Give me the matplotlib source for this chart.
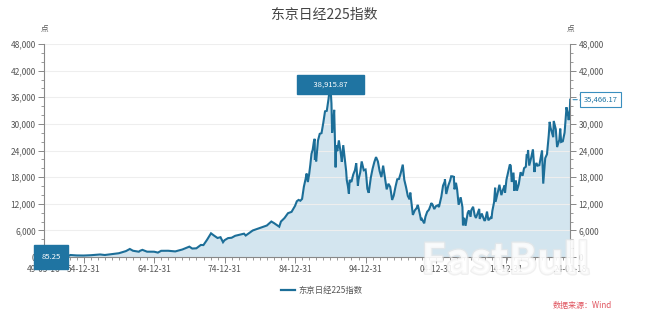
import matplotlib
matplotlib.use("Agg")
import matplotlib.pyplot as plt
import matplotlib.dates as mdates
import matplotlib.ticker as mticker
import matplotlib.patheffects as pe
import numpy as np
import pandas as pd

plt.rcParams['font.family'] = ['Noto Sans CJK SC', 'DejaVu Sans']

title = "东京日经225指数"
series_name = "东京日经225指数"
source = "数据来源：Wind"
unit = "点"

dates = [
    "1949-05-16", "1949-12-30", "1950-07-06", "1950-12-29", "1951-12-28", "1952-12-27",
    "1953-02-04", "1953-12-28", "1954-12-28", "1955-12-28", "1956-12-28", "1957-05-01",
    "1957-12-28", "1958-12-27", "1959-12-28", "1960-12-28", "1961-07-18", "1961-12-28",
    "1962-10-29", "1962-12-28", "1963-04-30", "1963-12-28", "1964-12-28", "1965-07-12",
    "1965-12-28", "1966-12-28", "1967-12-28", "1968-12-28", "1969-12-27", "1970-05-27",
    "1970-12-28", "1971-08-16", "1971-12-28", "1972-06-30", "1972-12-28", "1973-01-24",
    "1973-06-30", "1973-12-28", "1974-05-31", "1974-10-09", "1974-12-28", "1975-06-30",
    "1975-12-27", "1976-06-30", "1976-12-28", "1977-09-30", "1977-12-28", "1978-12-28",
    "1979-12-28", "1980-12-27", "1981-08-17", "1981-12-28", "1982-10-01", "1982-12-28",
    "1983-06-30", "1983-12-28", "1984-06-30", "1984-12-28",
    "1985-03-30", "1985-06-29", "1985-09-30", "1985-12-28",
    "1986-03-31", "1986-06-30", "1986-08-20", "1986-10-22", "1986-12-30",
    "1987-02-27", "1987-04-30", "1987-06-30", "1987-08-31", "1987-10-14", "1987-10-20",
    "1987-11-30", "1987-12-28",
    "1988-03-31", "1988-06-30", "1988-09-30", "1988-12-28",
    "1989-03-31", "1989-06-30", "1989-09-29", "1989-12-29",
    "1990-02-28", "1990-04-02", "1990-06-29", "1990-07-18", "1990-08-31", "1990-10-01",
    "1990-10-31", "1990-12-28",
    "1991-03-18", "1991-06-28", "1991-08-19", "1991-10-31", "1991-12-28",
    "1992-03-31", "1992-04-30", "1992-06-30", "1992-08-18", "1992-09-30", "1992-12-28",
    "1993-03-31", "1993-06-30", "1993-09-03", "1993-11-29", "1993-12-30",
    "1994-03-31", "1994-06-13", "1994-09-30", "1994-12-30",
    "1995-01-31", "1995-04-03", "1995-06-13", "1995-09-29", "1995-12-29",
    "1996-03-29", "1996-06-26", "1996-09-30", "1996-12-30",
    "1997-03-31", "1997-06-30", "1997-09-30", "1997-12-30",
    "1998-03-31", "1998-06-30", "1998-10-09", "1998-12-30",
    "1999-03-31", "1999-06-30", "1999-09-30", "1999-12-30",
    "2000-04-12", "2000-06-30", "2000-09-29", "2000-12-29",
    "2001-03-30", "2001-05-07", "2001-09-17", "2001-12-28",
    "2002-03-29", "2002-05-31", "2002-09-30", "2002-11-14", "2002-12-30",
    "2003-04-28", "2003-06-30", "2003-09-30", "2003-12-30",
    "2004-03-31", "2004-04-26", "2004-06-30", "2004-09-30", "2004-12-30",
    "2005-03-31", "2005-05-31", "2005-09-30", "2005-12-30",
    "2006-03-31", "2006-04-07", "2006-06-14", "2006-09-29", "2006-12-29",
    "2007-02-26", "2007-06-29", "2007-07-09", "2007-08-17", "2007-10-31", "2007-12-28",
    "2008-03-17", "2008-06-30", "2008-09-30", "2008-10-27", "2008-12-30",
    "2009-03-10", "2009-06-30", "2009-08-31", "2009-11-27", "2009-12-30",
    "2010-04-05", "2010-06-30", "2010-08-31", "2010-12-30",
    "2011-02-17", "2011-03-15", "2011-06-30", "2011-09-30", "2011-11-25", "2011-12-30",
    "2012-03-27", "2012-06-04", "2012-09-28", "2012-11-14", "2012-12-28",
    "2013-03-29", "2013-05-22", "2013-06-13", "2013-09-30", "2013-12-30",
    "2014-04-11", "2014-06-30", "2014-09-30", "2014-10-17", "2014-12-30",
    "2015-03-31", "2015-06-24", "2015-08-10", "2015-09-29", "2015-12-30",
    "2016-02-12", "2016-04-28", "2016-06-24", "2016-09-30", "2016-12-30",
    "2017-04-14", "2017-06-30", "2017-09-29", "2017-11-09", "2017-12-29",
    "2018-01-23", "2018-03-23", "2018-06-29", "2018-10-02", "2018-12-25", "2018-12-28",
    "2019-03-29", "2019-05-31", "2019-08-30", "2019-12-30",
    "2020-01-17", "2020-03-19", "2020-06-30", "2020-09-30", "2020-12-30",
    "2021-02-16", "2021-03-31", "2021-08-20", "2021-09-14", "2021-12-30",
    "2022-03-08", "2022-06-30", "2022-08-17", "2022-10-03", "2022-12-30",
    "2023-03-31", "2023-06-30", "2023-07-03", "2023-09-29", "2023-10-31", "2023-12-29",
    "2024-01-18",
]

values = [
    176.21, 109.91, 85.25, 101.91, 166.06, 362.64,
    474.43, 377.95, 356.09, 425.69, 549.14, 595.46,
    474.55, 666.54, 874.88, 1356.71, 1829.74, 1432.60,
    1216.04, 1420.43, 1634.37, 1225.10, 1216.55, 1020.49,
    1417.83, 1430.13, 1283.47, 1714.89, 2358.96, 1929.64,
    1987.14, 2740.98, 2713.74, 3887.78, 5207.94, 5359.74,
    4850.20, 4306.80, 4484.12, 3355.13, 3817.22, 4286.11,
    4358.60, 4800.37, 4990.85, 5280.21, 4865.60, 6001.85,
    6569.47, 7116.38, 8019.14, 7681.84, 6849.78, 8016.67,
    8800.14, 9893.82, 10193.56, 11542.60,
    12580.15, 12882.12, 12700.11, 13113.32,
    15859.75, 17654.05, 18820.64, 16910.63, 18701.30,
    20766.07, 23274.71, 24176.12, 26029.22, 26646.43, 21910.08,
    22686.49, 21564.00,
    26260.26, 27769.01, 27923.66, 30159.00,
    32838.68, 32948.69, 35636.15, 38915.87,
    34591.99, 28002.07, 31940.24, 33172.00, 25978.12, 20221.86,
    25194.10, 23848.71,
    26292.04, 23290.86, 21456.76, 25222.10, 22983.77,
    19345.95, 17390.70, 15951.73, 14309.41, 17399.08, 16924.95,
    18591.45, 19590.00, 21148.11, 16078.71, 17417.24,
    19111.92, 21552.81, 19563.81, 19723.06,
    18649.78, 15381.29, 14485.41, 17913.06, 19868.15,
    21406.85, 22530.75, 21556.40, 19361.35,
    18003.40, 20604.96, 17887.71, 15258.74,
    16527.17, 15830.27, 12879.97, 13842.17,
    15836.59, 17529.74, 17605.46, 18934.34,
    20833.21, 17411.05, 15747.26, 13785.69,
    12999.70, 14529.41, 9504.41, 10542.62,
    11024.94, 11763.70, 9383.29, 8303.39, 8578.95,
    7607.88, 9083.11, 10219.05, 10676.64,
    11715.39, 12163.89, 11858.87, 10823.57, 11488.76,
    11668.95, 11276.59, 13574.30, 16111.43,
    17059.66, 17563.37, 14218.60, 16127.58, 17225.83,
    18215.35, 18138.36, 18261.98, 15273.68, 16737.63, 15307.78,
    11787.51, 13481.38, 11259.86, 7162.90, 8859.56,
    7054.98, 9958.44, 10492.53, 9081.52, 10546.44,
    11339.30, 9382.64, 8824.06, 10228.92,
    10857.53, 8605.15, 9816.09, 8700.29, 8160.01, 8455.35,
    10255.15, 8295.63, 8870.16, 8664.73, 10395.18,
    12397.91, 15627.26, 12445.38, 14455.80, 16291.31,
    13960.05, 15162.10, 16173.52, 14532.51, 17450.77,
    19206.99, 20868.03, 20585.24, 16930.84, 19033.71,
    14952.61, 17290.49, 14952.02, 16449.84, 19114.37,
    18335.63, 20033.43, 20356.28, 22868.71, 22764.94,
    24124.15, 20617.86, 22304.51, 24270.62, 19155.74, 20014.77,
    21205.81, 20601.19, 20704.37, 23656.62,
    24041.26, 16552.83, 22288.14, 23185.12, 27444.17,
    30467.75, 29178.80, 27013.25, 30670.10, 28791.71,
    24790.95, 26393.04, 28942.14, 25937.21, 26094.50,
    28041.48, 33189.04, 33753.33, 31857.62, 30858.85, 33464.17,
    35466.17,
]

major_ticks = ["1949-05-16", "1954-12-31", "1964-12-31", "1974-12-31", "1984-12-31",
               "1994-12-31", "2004-12-31", "2014-12-31", "2024-01-18"]
major_labels = ["49-05-16", "54-12-31", "64-12-31", "74-12-31", "84-12-31",
                "94-12-31", "04-12-31", "14-12-31", "24-01-18"]
y_ticks = [0, 6000, 12000, 18000, 24000, 30000, 36000, 42000, 48000]

x = pd.to_datetime(dates)
y = np.array(values)

line_c = "#1c6e98"
fill_c = "#d3e5ef"
txt_c = "#555555"
box_c = "#1f74a2"

fig = plt.figure(figsize=(6.48, 3.19), dpi=100)
ax = fig.add_axes([0.068, 0.194, 0.812, 0.668])

ax.fill_between(x, y, 0, color=fill_c, lw=0, zorder=1)
ax.plot(x, y, color=line_c, lw=1.5, zorder=3, solid_joinstyle="miter")

xmin, xmax = pd.Timestamp(major_ticks[0]), pd.Timestamp(major_ticks[-1])
ax.set_xlim(xmin, xmax)
ax.set_ylim(0, 48000)

ax.set_xticks(pd.to_datetime(major_ticks))
ax.set_xticklabels(major_labels)
ax.xaxis.set_minor_locator(mdates.YearLocator(1))
ax.set_yticks(y_ticks)
ax.yaxis.set_minor_locator(mticker.MultipleLocator(2000))
ax.yaxis.set_major_formatter(mticker.FuncFormatter(lambda v, p: f"{int(v):,}"))

ax.grid(axis="y", color="#eeeeee", lw=0.8, zorder=0)
ax.spines["top"].set_visible(False)
for s in ["left", "right", "bottom"]:
    ax.spines[s].set_color("#888888")
    ax.spines[s].set_linewidth(0.8)

ax.tick_params(axis="both", which="major", labelsize=6, colors="#888888",
               labelcolor=txt_c, length=4, width=0.7, pad=2)
ax.tick_params(axis="both", which="minor", colors="#888888", length=2, width=0.6)
ax.tick_params(axis="y", which="both", left=True, right=True, labelleft=True, labelright=True)

# unit labels
ax.text(0.0, 1.05, unit, transform=ax.transAxes, fontsize=5.5, color=txt_c, ha="center", va="bottom")
ax.text(1.0, 1.05, unit, transform=ax.transAxes, fontsize=5.5, color=txt_c, ha="center", va="bottom")

# title
fig.text(0.50, 0.953, title, fontsize=10, color="#444444", ha="center", va="center")

# peak annotation (box centred on the peak level)
imax = int(np.argmax(y))
ax.annotate(f"      {y[imax]:,.2f}      ", xy=(x[imax], y[imax]), xytext=(0, 0),
            textcoords="offset points", ha="center", va="center", fontsize=5.5,
            color="white", zorder=6,
            bbox=dict(boxstyle="square,pad=0.75", fc=box_c, ec=box_c))

# min annotation
imin = int(np.argmin(y))
ax.annotate(f"{y[imin]:,.2f}", xy=(x[0], 0), xytext=(5, 0), textcoords="offset points",
            ha="center", va="center", fontsize=5.5, color="white", zorder=6,
            bbox=dict(boxstyle="square,pad=1.0", fc=box_c, ec=box_c),
            annotation_clip=False)

# last annotation
ax.annotate(f"{y[-1]:,.2f}", xy=(x[-1], y[-1]), xytext=(22, 0), textcoords="offset points",
            ha="center", va="center", fontsize=5.5, color=box_c,
            bbox=dict(boxstyle="square,pad=0.45", fc="white", ec="#3a8fbf", lw=0.8),
            arrowprops=dict(arrowstyle="-", color="#3a8fbf", lw=0.8),
            annotation_clip=False)

# legend
leg = fig.legend([plt.Line2D([], [], color=line_c, lw=1.6)], [series_name],
                 loc="center", bbox_to_anchor=(0.497, 0.09), frameon=False,
                 fontsize=6, handlelength=1.6, handletextpad=0.5)
for t in leg.get_texts():
    t.set_color(txt_c)

# source
fig.text(0.945, 0.043, source, fontsize=5.8, color="#e05560", ha="right", va="center")

# watermark
fig.text(0.78, 0.18, "FastBull", fontsize=30, color="white", ha="center", va="center",
         fontweight="bold", alpha=0.65, zorder=10,
         path_effects=[pe.withStroke(linewidth=2, foreground="#e8e8e8")])

fig.savefig("out.png", dpi=100)
